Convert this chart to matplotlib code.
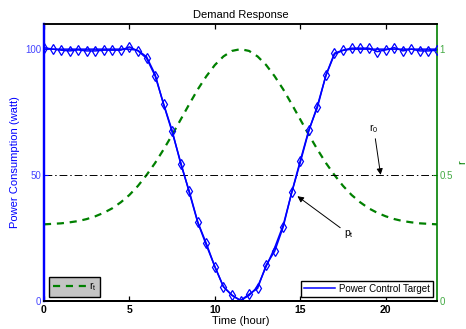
import numpy as np
import matplotlib
matplotlib.use("Agg")
import matplotlib.pyplot as plt

plt.rcParams['font.family'] = ['Liberation Sans', 'DejaVu Sans']

hours = np.arange(0, 23.01, 0.5)

power_target = [100, 100, 100, 100, 100, 100, 100, 100, 100, 100, 100,
                99.5, 97, 90, 78, 67, 55, 43, 31, 22, 13.5, 5.5, 2, 0,
                2, 5.5, 13.5, 21, 30, 43, 55, 67.5, 77.5, 89.5, 98, 99.5,
                100, 100, 100, 100, 100, 100, 100, 100, 100, 100, 100]

power_actual = [100.6, 100, 99.6, 99.3, 99.7, 99.3, 99.3, 99.6, 99.6, 99.6, 100.9,
                99.3, 96.4, 89.4, 78.2, 67.6, 54.4, 43.5, 31.2, 22.7, 13.4, 5.5, 2.2, 0,
                2.5, 4.8, 14.1, 19.6, 29.3, 43.1, 55.7, 67.9, 76.8, 89.7, 98.4, 99.6,
                100.4, 100.4, 100.4, 99.0, 99.7, 100.6, 99.3, 100, 99.3, 99.3, 99.6]

r_t = [0.303, 0.305, 0.307, 0.311, 0.316, 0.324, 0.335, 0.349, 0.367, 0.391, 0.420,
       0.456, 0.499, 0.547, 0.601, 0.659, 0.720, 0.781, 0.840, 0.892, 0.937, 0.971,
       0.993, 1.0, 0.993, 0.971, 0.937, 0.892, 0.840, 0.781, 0.720, 0.659, 0.601,
       0.547, 0.499, 0.456, 0.420, 0.391, 0.367, 0.349, 0.335, 0.324, 0.316, 0.311,
       0.307, 0.305, 0.303]

r0 = 0.5
xticks = [0, 5, 10, 15, 20]
left_ticks = [0, 50, 100]
right_ticks = [0, 0.5, 1]

BLUE = '#0000ff'
GREEN = '#008000'

fig = plt.figure(figsize=(4.66, 3.29), dpi=100)
ax = fig.add_axes([0.0944, 0.0866, 0.8434, 0.8404])
ax2 = ax.twinx()

ax.set_zorder(ax2.get_zorder() + 1)
ax.patch.set_visible(False)

# power lines
ax.plot(hours, power_target, color=BLUE, lw=1.1, label='Power Control Target')
ax.plot(hours, power_actual, color=BLUE, lw=1.1, marker='d', ms=4.6,
        mfc='none', mec=BLUE, mew=0.9)

# r_t
ax2.plot(hours, r_t, color=GREEN, lw=1.6, ls=(0, (3.2, 2.6)), label=r'r$_\mathregular{t}$')
ax2.axhline(r0, color='black', lw=0.7, ls=(0, (8, 3, 1.5, 3)))

ax.set_xlim(0, 23)
ax.set_ylim(0, 110)
ax2.set_ylim(0, 1.1)

ax.set_xticks(xticks)
ax.set_xticklabels([str(v) for v in xticks], fontweight='bold', fontsize=7.5)
ax.set_yticks(left_ticks)
ax.set_yticklabels([str(v) for v in left_ticks], color='#4444ff', fontsize=7)
ax2.set_yticks(right_ticks)
ax2.set_yticklabels(['0', '0.5', '1'], color='#44aa44', fontsize=7)

ax.tick_params(axis='x', direction='in', top=True, length=3.5, width=0.9, pad=3)
ax.tick_params(axis='y', direction='in', length=3, width=0.8, colors=BLUE, labelcolor='#4444ff', pad=2)
ax2.tick_params(axis='y', direction='in', length=3, width=0.8, colors=GREEN, labelcolor='#44aa44', pad=2)
ax2.tick_params(axis='x', top=False, bottom=False)

for a in (ax, ax2):
    a.spines['bottom'].set_linewidth(1.4)
    a.spines['top'].set_linewidth(1.1)
    a.spines['top'].set_color('black')
    a.spines['top'].set_visible(True)
ax.spines['left'].set_color(BLUE)
ax.spines['left'].set_linewidth(1.6)
ax2.spines['left'].set_color(BLUE)
ax2.spines['left'].set_linewidth(1.6)
ax2.spines['right'].set_color(GREEN)
ax2.spines['right'].set_linewidth(1.2)
ax.spines['right'].set_visible(False)

ax.set_title('Demand Response', fontsize=8, pad=4)
ax.set_xlabel('Time (hour)', fontsize=8, labelpad=1)
ax.set_ylabel('Power Consumption (watt)', fontsize=8, color=BLUE, labelpad=4)
ax2.set_ylabel('r', fontsize=8, color=GREEN)
ax2.yaxis.set_label_coords(1.052, 0.5)

# annotations
ax2.annotate(r'r$_\mathregular{0}$', xy=(19.7, r0), xytext=(19.3, 0.66),
             fontsize=7.5, ha='center', va='bottom',
             arrowprops=dict(arrowstyle='-|>', color='black', lw=0.7,
                             mutation_scale=9, shrinkA=1, shrinkB=0))
ax.annotate(r'p$_\mathregular{t}$', xy=(14.83, 41.5), xytext=(17.85, 24.0),
            fontsize=7.5, ha='center', va='bottom',
            arrowprops=dict(arrowstyle='-|>', color='black', lw=0.7,
                            mutation_scale=9, shrinkA=1, shrinkB=0))

leg1 = ax2.legend(loc='lower left', bbox_to_anchor=(0.013, 0.014), fontsize=7.5,
                  handlelength=3.2, handletextpad=0.3, borderpad=0.35,
                  fancybox=False, edgecolor='black', facecolor='#c4c4c4', framealpha=1,
                  borderaxespad=0)
leg1.get_frame().set_linewidth(1.0)

leg2 = ax.legend(loc='lower right', bbox_to_anchor=(0.99, 0.014), fontsize=7,
                 handlelength=3.2, handletextpad=0.4, borderpad=0.3,
                 fancybox=False, edgecolor='black', facecolor='white', framealpha=1,
                 borderaxespad=0)
leg2.get_frame().set_linewidth(1.0)

fig.savefig('out.png', dpi=100)
